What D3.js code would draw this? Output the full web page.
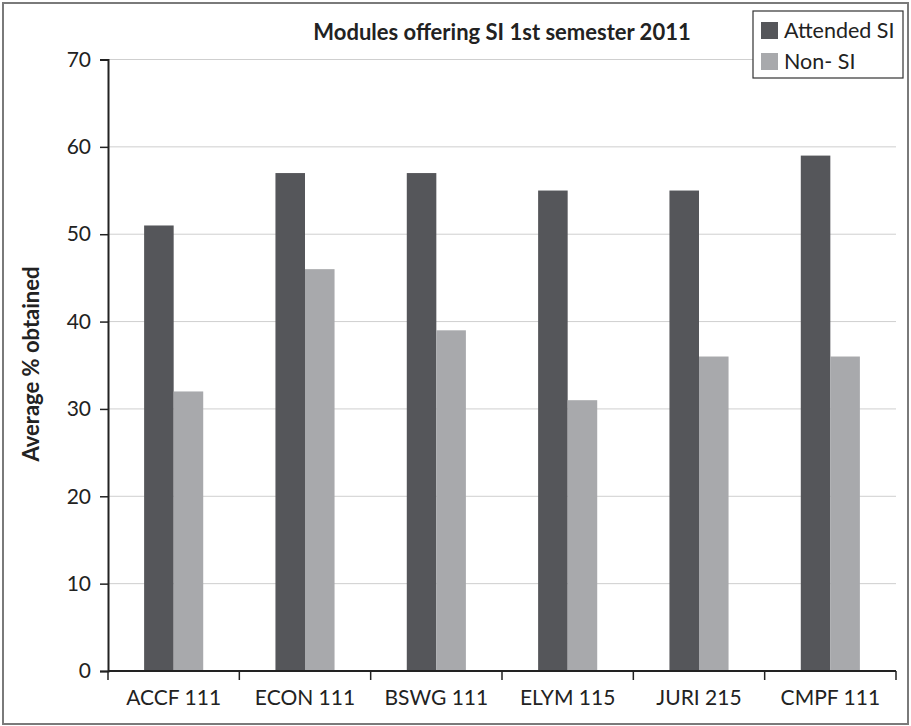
<!DOCTYPE html>
<html>
<head>
<meta charset="utf-8">
<script src="https://cdn.jsdelivr.net/npm/d3@7/dist/d3.min.js"></script>
<style>
  body { margin: 0; background: #fff; }
  text { font-family: Lato, "Open Sans", sans-serif; fill: #222; }
</style>
</head>
<body>
<div id="chart"></div>
<script>
const modules = ['ACCF 111', 'ECON 111', 'BSWG 111', 'ELYM 115', 'JURI 215', 'CMPF 111'];
const attendedSI = [51, 57, 57, 55, 55, 59];
const nonSI = [32, 46, 39, 31, 36, 36];
const seriesNames = ['Attended SI', 'Non- SI'];
const seriesColors = ['#55565a', '#a8a9ac'];
const yTicks = [0, 10, 20, 30, 40, 50, 60, 70];

const width = 911, height = 726;
const margin = { top: 59.5, right: 15, bottom: 55, left: 108 };

const svg = d3.select('#chart').append('svg')
  .attr('width', width)
  .attr('height', height);

// outer frame
svg.append('rect')
  .attr('x', 3).attr('y', 3)
  .attr('width', 905).attr('height', 721)
  .attr('fill', 'none')
  .attr('stroke', '#7a7a7a')
  .attr('stroke-width', 2);

const x0 = d3.scaleBand()
  .domain(modules)
  .range([margin.left, width - margin.right])
  .padding(0);

const bw = x0.bandwidth();
const x1 = d3.scaleBand()
  .domain(seriesNames)
  .range([bw * 0.275, bw * 0.725])
  .padding(0);

const y = d3.scaleLinear()
  .domain([0, 70])
  .range([height - margin.bottom, margin.top]);

// gridlines
svg.append('g')
  .selectAll('line')
  .data(yTicks.filter(d => d > 0))
  .enter()
  .append('line')
  .attr('x1', margin.left)
  .attr('x2', width - margin.right)
  .attr('y1', d => y(d))
  .attr('y2', d => y(d))
  .attr('stroke', '#cfcfcf')
  .attr('stroke-width', 1);

// bars
const rows = modules.map((m, i) => ({ module: m, values: [attendedSI[i], nonSI[i]] }));
const groups = svg.append('g')
  .selectAll('g')
  .data(rows)
  .enter()
  .append('g')
  .attr('transform', d => `translate(${x0(d.module)},0)`);

groups.selectAll('rect')
  .data(d => d.values.map((v, j) => ({ name: seriesNames[j], value: v, color: seriesColors[j] })))
  .enter()
  .append('rect')
  .attr('x', d => x1(d.name))
  .attr('width', x1.bandwidth())
  .attr('y', d => y(d.value))
  .attr('height', d => y(0) - y(d.value))
  .attr('fill', d => d.color);

// y axis
const yAxis = svg.append('g')
  .attr('transform', `translate(${margin.left},0)`)
  .call(d3.axisLeft(y).tickValues(yTicks).tickSize(8).tickPadding(9));
yAxis.selectAll('text').style('font-size', '21px');

// x axis
const xAxis = svg.append('g')
  .attr('transform', `translate(0,${y(0)})`)
  .call(d3.axisBottom(x0).tickSize(0).tickPadding(19));
xAxis.selectAll('text').style('font-size', '21px');
xAxis.append('g')
  .selectAll('line')
  .data(d3.range(modules.length + 1))
  .enter()
  .append('line')
  .attr('x1', i => margin.left + i * bw)
  .attr('x2', i => margin.left + i * bw)
  .attr('y1', 0)
  .attr('y2', 9)
  .attr('stroke', '#222')
  .attr('stroke-width', 1.5);

[yAxis, xAxis].forEach(a => {
  a.select('.domain').attr('stroke', '#222').attr('stroke-width', 2);
  a.selectAll('.tick line').attr('stroke', '#222').attr('stroke-width', 1.5);
  a.selectAll('text').attr('fill', '#222');
});
xAxis.select('.domain').attr('d', `M${margin.left},0H${width - margin.right}`);

// title
svg.append('text')
  .attr('x', (margin.left + width - margin.right) / 2)
  .attr('y', 40)
  .attr('text-anchor', 'middle')
  .style('font-size', '22px')
  .style('font-weight', 'bold')
  .text('Modules offering SI 1st semester 2011');

// y label
svg.append('text')
  .attr('transform', 'translate(39,364) rotate(-90)')
  .attr('text-anchor', 'middle')
  .style('font-size', '22px')
  .style('font-weight', 'bold')
  .text('Average % obtained');

// legend
const legend = svg.append('g').attr('transform', 'translate(753,11)');
legend.append('rect')
  .attr('width', 150).attr('height', 67)
  .attr('fill', '#fff')
  .attr('stroke', '#333')
  .attr('stroke-width', 1.2);
const items = legend.selectAll('g.item')
  .data(seriesNames)
  .enter()
  .append('g')
  .attr('class', 'item')
  .attr('transform', (d, i) => `translate(8,${11 + i * 31})`);
items.append('rect')
  .attr('width', 17).attr('height', 17)
  .attr('fill', (d, i) => seriesColors[i]);
items.append('text')
  .attr('x', 23)
  .attr('y', 16)
  .style('font-size', '21.5px')
  .text(d => d);
</script>
</body>
</html>
